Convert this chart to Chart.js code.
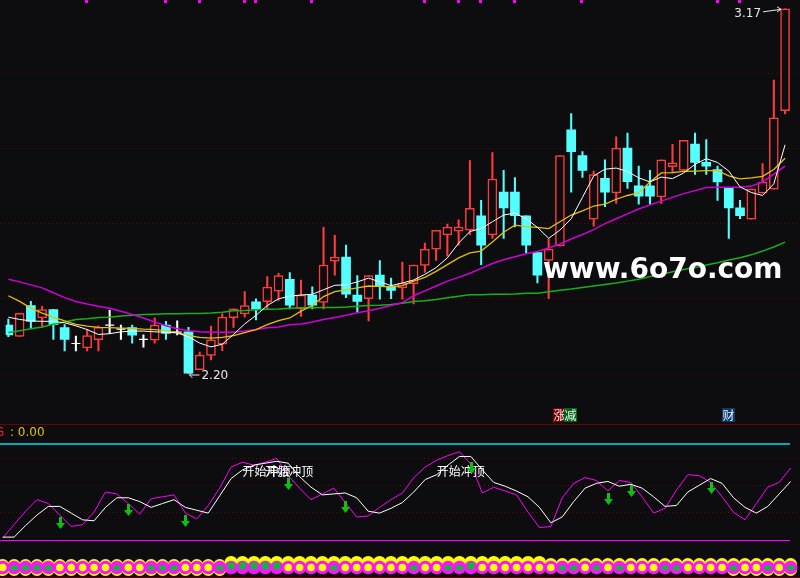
<!DOCTYPE html>
<html>
<head>
<meta charset="utf-8">
<script src="https://cdn.jsdelivr.net/npm/chart.js@4.4.0/dist/chart.umd.min.js"></script>
<style>
  body { margin: 0; background: #0d0d10; }
  #wrap { position: relative; width: 800px; height: 578px; overflow: hidden; background: #0d0d10; }
  canvas { position: absolute; left: 0; }
  #c1 { top: 0; }
  #c2 { top: 424px; }
  .sep { position: absolute; left: 0; width: 800px; height: 1px; background: #6e0000; }
  #wm { position: absolute; left: 543px; top: 255px; font: bold 28px/28px "DejaVu Sans"; color: #fff; white-space: nowrap; }
</style>
</head>
<body>
<div id="wrap">
  <canvas id="c1" width="800" height="424"></canvas>
  <canvas id="c2" width="800" height="154"></canvas>
  <div class="sep" style="top:424px"></div>
  <div class="sep" style="top:577px"></div>
  <div id="wm">www.6o7o.com</div>
</div>
<script>
// K线数据
const opens  = [2.329,2.299,2.381,2.348,2.370,2.322,2.280,2.268,2.290,2.329,2.318,2.322,2.291,2.289,2.329,2.310,2.311,2.210,2.248,2.278,
                2.349,2.359,2.391,2.391,2.419,2.451,2.372,2.409,2.389,2.499,2.510,2.409,2.399,2.462,2.430,2.428,2.439,2.488,2.531,2.569,
                2.579,2.582,2.620,2.569,2.683,2.683,2.620,2.522,2.501,2.540,2.849,2.780,2.611,2.720,2.681,2.800,2.700,2.700,2.670,2.751,
                2.741,2.811,2.762,2.743,2.693,2.641,2.611,2.680,2.691,2.900];
const highs  = [2.345,2.361,2.392,2.379,2.371,2.330,2.300,2.318,2.327,2.369,2.329,2.329,2.303,2.348,2.339,2.340,2.323,2.257,2.326,2.359,
                2.372,2.418,2.399,2.458,2.467,2.469,2.449,2.431,2.589,2.568,2.542,2.461,2.461,2.501,2.454,2.497,2.489,2.547,2.581,2.598,
                2.609,2.767,2.661,2.788,2.741,2.722,2.620,2.522,2.558,2.780,2.892,2.791,2.739,2.769,2.830,2.840,2.752,2.741,2.769,2.810,
                2.821,2.840,2.823,2.752,2.693,2.661,2.691,2.759,2.981,3.171];
const lows   = [2.298,2.298,2.322,2.322,2.291,2.260,2.260,2.260,2.260,2.307,2.291,2.281,2.270,2.281,2.291,2.303,2.200,2.210,2.236,2.261,
                2.323,2.350,2.343,2.372,2.394,2.372,2.352,2.372,2.372,2.462,2.402,2.363,2.340,2.398,2.399,2.398,2.385,2.469,2.501,2.513,
                2.542,2.570,2.490,2.560,2.560,2.590,2.521,2.441,2.399,2.540,2.683,2.722,2.592,2.644,2.653,2.693,2.651,2.651,2.653,2.734,
                2.739,2.730,2.730,2.661,2.560,2.612,2.611,2.680,2.691,2.891];
const closes = [2.303,2.360,2.339,2.370,2.330,2.291,2.280,2.301,2.323,2.329,2.318,2.302,2.291,2.329,2.307,2.310,2.201,2.249,2.290,2.350,
                2.372,2.381,2.372,2.430,2.461,2.382,2.409,2.382,2.489,2.510,2.411,2.392,2.461,2.432,2.421,2.441,2.489,2.531,2.581,2.590,
                2.590,2.640,2.542,2.718,2.641,2.620,2.542,2.462,2.531,2.780,2.791,2.741,2.730,2.683,2.800,2.711,2.672,2.672,2.769,2.761,
                2.821,2.762,2.752,2.710,2.641,2.620,2.691,2.710,2.881,3.171];

// 均线
const ma5  = [2.350,2.344,2.340,2.339,2.339,2.335,2.327,2.317,2.304,2.306,2.311,2.313,2.313,2.311,2.310,2.308,2.298,2.281,2.271,2.278,
              2.304,2.332,2.355,2.381,2.399,2.406,2.409,2.411,2.423,2.435,2.436,2.444,2.454,2.444,2.434,2.441,2.449,2.464,2.482,2.508,
              2.547,2.578,2.586,2.604,2.622,2.627,2.612,2.589,2.560,2.582,2.612,2.669,2.726,2.744,2.747,2.738,2.721,2.710,2.723,2.719,
              2.734,2.757,2.772,2.762,2.739,2.697,2.682,2.674,2.705,2.809];
const ma10 = [2.407,2.392,2.374,2.361,2.350,2.340,2.331,2.326,2.323,2.322,2.321,2.320,2.318,2.317,2.314,2.309,2.301,2.296,2.294,2.296,
              2.301,2.309,2.317,2.330,2.341,2.348,2.366,2.381,2.405,2.418,2.423,2.428,2.433,2.432,2.431,2.434,2.446,2.456,2.472,2.490,
              2.508,2.521,2.526,2.550,2.576,2.595,2.591,2.589,2.586,2.604,2.622,2.633,2.646,2.651,2.664,2.674,2.681,2.710,2.734,2.735,
              2.738,2.739,2.740,2.740,2.726,2.718,2.721,2.725,2.743,2.773];
const ma30 = [2.451,2.444,2.436,2.428,2.415,2.402,2.392,2.385,2.379,2.374,2.366,2.357,2.348,2.337,2.327,2.319,2.314,2.311,2.310,2.310,
              2.310,2.313,2.317,2.322,2.324,2.330,2.332,2.337,2.344,2.349,2.355,2.362,2.367,2.374,2.381,2.389,2.407,2.420,2.433,2.446,
              2.456,2.467,2.480,2.493,2.503,2.511,2.519,2.525,2.534,2.545,2.558,2.570,2.583,2.599,2.612,2.625,2.638,2.649,2.659,2.669,
              2.679,2.687,2.695,2.696,2.696,2.696,2.699,2.710,2.731,2.752];
const ma60 = [2.309,2.314,2.319,2.324,2.331,2.337,2.344,2.346,2.349,2.350,2.353,2.355,2.357,2.358,2.359,2.359,2.360,2.360,2.361,2.363,
              2.367,2.368,2.370,2.371,2.372,2.374,2.375,2.375,2.376,2.376,2.377,2.379,2.381,2.382,2.384,2.387,2.392,2.394,2.397,2.402,
              2.406,2.410,2.410,2.411,2.411,2.412,2.414,2.414,2.418,2.422,2.425,2.429,2.433,2.437,2.441,2.446,2.451,2.458,2.464,2.471,
              2.477,2.482,2.489,2.495,2.502,2.508,2.516,2.526,2.537,2.550];

// 副图指标
const oscFast = [2,16,30,42,38,26,14,16,29,50,48,38,27,43,45,47,28,22,36,54,
                 76,81,78,81,85,67,54,42,48,54,39,24,25,34,42,49,65,76,83,88,
                 92,79,49,55,51,47,29,13,14,44,59,65,62,51,62,60,45,28,33,52,
                 68,67,60,45,29,21,38,55,60,75];
const oscSlow = [3,3,15,26,35,35,28,21,20,34,44,44,40,34,38,42,34,31,28,46,
                 64,73,78,80,82,80,66,55,47,48,49,44,30,28,33,39,50,63,68,78,
                 87,87,73,60,56,51,45,34,18,24,40,54,59,61,56,58,54,45,35,36,
                 50,57,64,59,44,34,28,35,48,61];
const oscLevels = [85.4, 57.3, 29.2];
const oscTop = 100, oscBottom = 0;
const arrowIdx = [5, 11, 16, 25, 30, 41, 53, 55, 62];
const arrowVal = [23.6, 37.5, 26, 64.3, 40.6, 81.6, 48.6, 57.3, 60.7];
const signalIdx = [21, 23, 38];
const signalVal = 71;
const signalText = '开始冲顶';

// 底部信号带
const bandMid = -28.6;
const bandHi = [-26.6,-26.6,-26.6,-26.6,-26.6,-26.6,-26.6,-26.6,-26.6,-26.6,-26.6,-26.6,-26.6,-26.6,-26.6,-26.6,-26.6,-26.6,-26.6,-26.6,
                -23.4,-23.4,-23.4,-23.4,-23.4,-23.4,-23.4,-23.4,-23.4,-23.4,-23.4,-23.4,-23.4,-23.4,-23.4,-23.4,-23.4,-23.4,-23.4,-23.4,
                -23.4,-23.4,-23.4,-23.4,-23.4,-23.4,-23.4,-23.4,-25.5,-25.5,-25.5,-25.5,-25.5,-25.5,-25.5,-25.5,-25.5,-25.5,-25.5,-25.5,
                -25.5,-25.5,-25.5,-25.5,-25.5,-25.5,-25.5,-25.5,-25.5,-25.5];
const bandLoIdx = [0,1,2,3,4,5,6,7,8,9,10,11,12,13,14,15,16,17,18,19,64,65,66,67,68,69];
const bandLo = -30.7;
const greenIdx = [1,2,3,4,10,13,14,15,19,20,21,22,23,24,29,36,39,40,41,49,50,52,54,58,59,64,67,69];
const greenBig = [20,21,22,23,24,41];

const gridPrices = [2.2, 2.4, 2.6, 2.8, 3.0];
const markIdx = [7, 14, 17, 21, 22, 27, 37, 40, 42, 45, 51, 63, 65];
const tagIdx = [49, 50, 64];
const tagText = ['涨', '减', '财'];
const tagBg = ['#7a0000', '#00641a', '#0c3a70'];

const BG = '#0d0d10', UP = '#ff3c3c', DOWN = '#54ffff', DOJI = '#ffffff';
const dir = i => closes[i] > opens[i] ? 1 : (closes[i] < opens[i] ? -1 : 0);
const colorOf = i => dir(i) > 0 ? UP : (dir(i) < 0 ? DOWN : DOJI);
const pts = arr => arr.map((v, i) => ({ x: i, y: v }));
const xScale = { type: 'linear', min: -0.236, max: 69.82, offset: false, display: false };

function maLine(data, color, w) {
  return { type: 'line', data: pts(data), borderColor: color, borderWidth: w, pointRadius: 0, tension: 0, order: 0 };
}

const idxAll = closes.map((c, i) => i);
const mainDecor = {
  id: 'mainDecor',
  beforeDatasetsDraw(chart) {
    const { ctx, scales: { y } } = chart;
    ctx.save();
    ctx.strokeStyle = '#6a0808';
    ctx.lineWidth = 1;
    ctx.setLineDash([1, 3]);
    gridPrices.forEach(p => {
      const py = Math.round(y.getPixelForValue(p)) + 0.5;
      ctx.beginPath(); ctx.moveTo(0, py); ctx.lineTo(800, py); ctx.stroke();
    });
    ctx.restore();
  },
  afterDatasetsDraw(chart) {
    const { ctx, scales: { x, y } } = chart;
    ctx.save();
    // 顶部标记
    ctx.fillStyle = '#ff00ff';
    markIdx.forEach(i => ctx.fillRect(Math.round(x.getPixelForValue(i)) - 2, 0, 3, 3));

    // 最高/最低价标注
    const hi = highs.indexOf(Math.max(...highs));
    const lo = lows.indexOf(Math.min(...lows));
    ctx.strokeStyle = '#e8e8e8';
    ctx.fillStyle = '#e8e8e8';
    ctx.lineWidth = 1;
    ctx.font = '12px "DejaVu Sans"';
    ctx.textBaseline = 'middle';
    const hx = x.getPixelForValue(hi), hy = y.getPixelForValue(highs[hi]);
    ctx.textAlign = 'right';
    ctx.fillText(highs[hi].toFixed(2), hx - 24, hy + 5);
    ctx.beginPath(); ctx.moveTo(hx - 22, hy + 3); ctx.lineTo(hx - 4, hy + 0.5); ctx.stroke();
    ctx.beginPath(); ctx.moveTo(hx - 8, hy - 2); ctx.lineTo(hx - 4, hy + 0.5); ctx.lineTo(hx - 8, hy + 3); ctx.stroke();

    const lx = x.getPixelForValue(lo), ly = y.getPixelForValue(lows[lo]);
    ctx.textAlign = 'left';
    ctx.fillText(lows[lo].toFixed(2), lx + 13, ly + 2);
    ctx.beginPath(); ctx.moveTo(lx + 11, ly + 1.5); ctx.lineTo(lx + 1, ly + 1.5); ctx.stroke();
    ctx.beginPath(); ctx.moveTo(lx + 4, ly - 1.5); ctx.lineTo(lx + 1, ly + 1.5); ctx.lineTo(lx + 4, ly + 4.5); ctx.stroke();

    // 涨减 / 财 标签
    ctx.font = '12px "Noto Sans CJK SC"';
    ctx.textAlign = 'center';
    tagIdx.forEach((i, k) => {
      const px = Math.round(x.getPixelForValue(i));
      ctx.fillStyle = tagBg[k];
      ctx.fillRect(px - 7, 408, 13, 14);
      ctx.fillStyle = '#f0f0f0';
      ctx.fillText(tagText[k], px - 0.5, 415);
    });
    ctx.restore();
  }
};

new Chart(document.getElementById('c1'), {
  type: 'bar',
  data: {
    datasets: [
      maLine(ma5, '#ffffff', 1),
      maLine(ma10, '#e6c000', 1.3),
      maLine(ma30, '#d000d8', 1.5),
      maLine(ma60, '#18b018', 1.5),
      {
        type: 'line', showLine: false, order: 1,
        data: idxAll.filter(i => dir(i) === 0).map(i => ({ x: i, y: opens[i] })),
        pointStyle: 'line', pointRadius: 4.5, borderColor: DOJI, borderWidth: 1.2
      },
      {
        type: 'bar', order: 2, grouped: false, barThickness: 9,
        data: idxAll.filter(i => dir(i) !== 0).map(i => ({ x: i, y: [opens[i], closes[i]] })),
        backgroundColor: c => dir(c.raw.x) > 0 ? BG : DOWN,
        borderColor: c => colorOf(c.raw.x),
        borderWidth: c => dir(c.raw.x) > 0 ? 1.5 : 0,
        borderSkipped: false
      },
      {
        type: 'bar', order: 3, grouped: false, barThickness: 1.4,
        data: idxAll.map(i => ({ x: i, y: [lows[i], highs[i]] })),
        backgroundColor: c => colorOf(c.raw.x),
        borderWidth: 0
      }
    ]
  },
  options: {
    responsive: false, animation: false,
    layout: { padding: 0 },
    plugins: { legend: { display: false }, tooltip: { enabled: false } },
    scales: {
      x: xScale,
      y: { type: 'linear', min: 2.0808, max: 3.1793, display: false }
    }
  },
  plugins: [mainDecor]
});

// 副图
const subDecor = {
  id: 'subDecor',
  beforeDatasetsDraw(chart) {
    const { ctx, scales: { x, y } } = chart;
    ctx.save();
    ctx.lineWidth = 1;
    ctx.strokeStyle = '#6a0808';
    ctx.setLineDash([1, 3]);
    oscLevels.forEach(v => {
      const py = Math.round(y.getPixelForValue(v)) + 0.5;
      ctx.beginPath(); ctx.moveTo(0, py); ctx.lineTo(800, py); ctx.stroke();
    });
    ctx.setLineDash([]);
    ctx.strokeStyle = '#00e0f0';
    ctx.lineWidth = 1.5;
    let py = y.getPixelForValue(oscTop);
    ctx.beginPath(); ctx.moveTo(0, py); ctx.lineTo(790, py); ctx.stroke();
    ctx.strokeStyle = '#ff00ff';
    ctx.lineWidth = 1;
    py = Math.round(y.getPixelForValue(oscBottom)) + 0.5;
    ctx.beginPath(); ctx.moveTo(0, py); ctx.lineTo(790, py); ctx.stroke();

    // 底部信号带
    const circ = (px, v, r, c) => { ctx.fillStyle = c; ctx.beginPath(); ctx.arc(px, y.getPixelForValue(v), r, 0, Math.PI * 2); ctx.fill(); };
    idxAll.forEach(i => circ(x.getPixelForValue(i), bandHi[i], 6.5, '#ffff00'));
    bandLoIdx.forEach(i => circ(x.getPixelForValue(i), bandLo, 6.5, '#ffff00'));
    idxAll.forEach(i => circ(x.getPixelForValue(i), bandMid, 6.8, '#ff10ff'));
    idxAll.forEach(i => {
      const px = x.getPixelForValue(i);
      if (greenIdx.includes(i)) {
        const big = greenBig.includes(i);
        const cy = y.getPixelForValue(bandMid);
        ctx.fillStyle = '#14b43c';
        if (big) ctx.fillRect(px - 3.5, cy - 5, 7, 7);
        else ctx.fillRect(px - 3.5, cy - 2, 7, 5);
      } else {
        circ(px, bandMid, 3.8, '#ffff00');
      }
    });

    ctx.font = '12px "DejaVu Sans"';
    ctx.textBaseline = 'middle';
    ctx.textAlign = 'left';
    ctx.fillStyle = '#ff2020';
    ctx.fillText('G', -5, 9);
    ctx.fillStyle = '#e6c000';
    ctx.fillText(': 0.00', 10, 9);
    ctx.restore();
  },
  afterDatasetsDraw(chart) {
    const { ctx, scales: { x, y } } = chart;
    ctx.save();
    ctx.font = '12px "Noto Sans CJK SC"';
    ctx.fillStyle = '#ffffff';
    ctx.textAlign = 'left';
    ctx.textBaseline = 'middle';
    signalIdx.forEach(i => ctx.fillText(signalText, x.getPixelForValue(i), y.getPixelForValue(signalVal)));
    ctx.fillStyle = '#10c010';
    arrowIdx.forEach((i, k) => {
      const px = Math.round(x.getPixelForValue(i));
      const top = Math.round(y.getPixelForValue(arrowVal[k]));
      ctx.fillRect(px - 1, top, 3, 7);
      ctx.beginPath();
      ctx.moveTo(px - 4, top + 6); ctx.lineTo(px + 5, top + 6); ctx.lineTo(px + 0.5, top + 12); ctx.closePath();
      ctx.fill();
    });
    ctx.restore();
  }
};

new Chart(document.getElementById('c2'), {
  type: 'line',
  data: {
    datasets: [
      { data: pts(oscSlow), borderColor: '#ffffff', borderWidth: 1, pointRadius: 0, tension: 0 },
      { data: pts(oscFast), borderColor: '#ff00ff', borderWidth: 1, pointRadius: 0, tension: 0 }
    ]
  },
  options: {
    responsive: false, animation: false,
    layout: { padding: 0 },
    plugins: { legend: { display: false }, tooltip: { enabled: false } },
    scales: {
      x: xScale,
      y: { type: 'linear', min: -39.58, max: 120.83, display: false }
    }
  },
  plugins: [subDecor]
});
</script>
</body>
</html>
